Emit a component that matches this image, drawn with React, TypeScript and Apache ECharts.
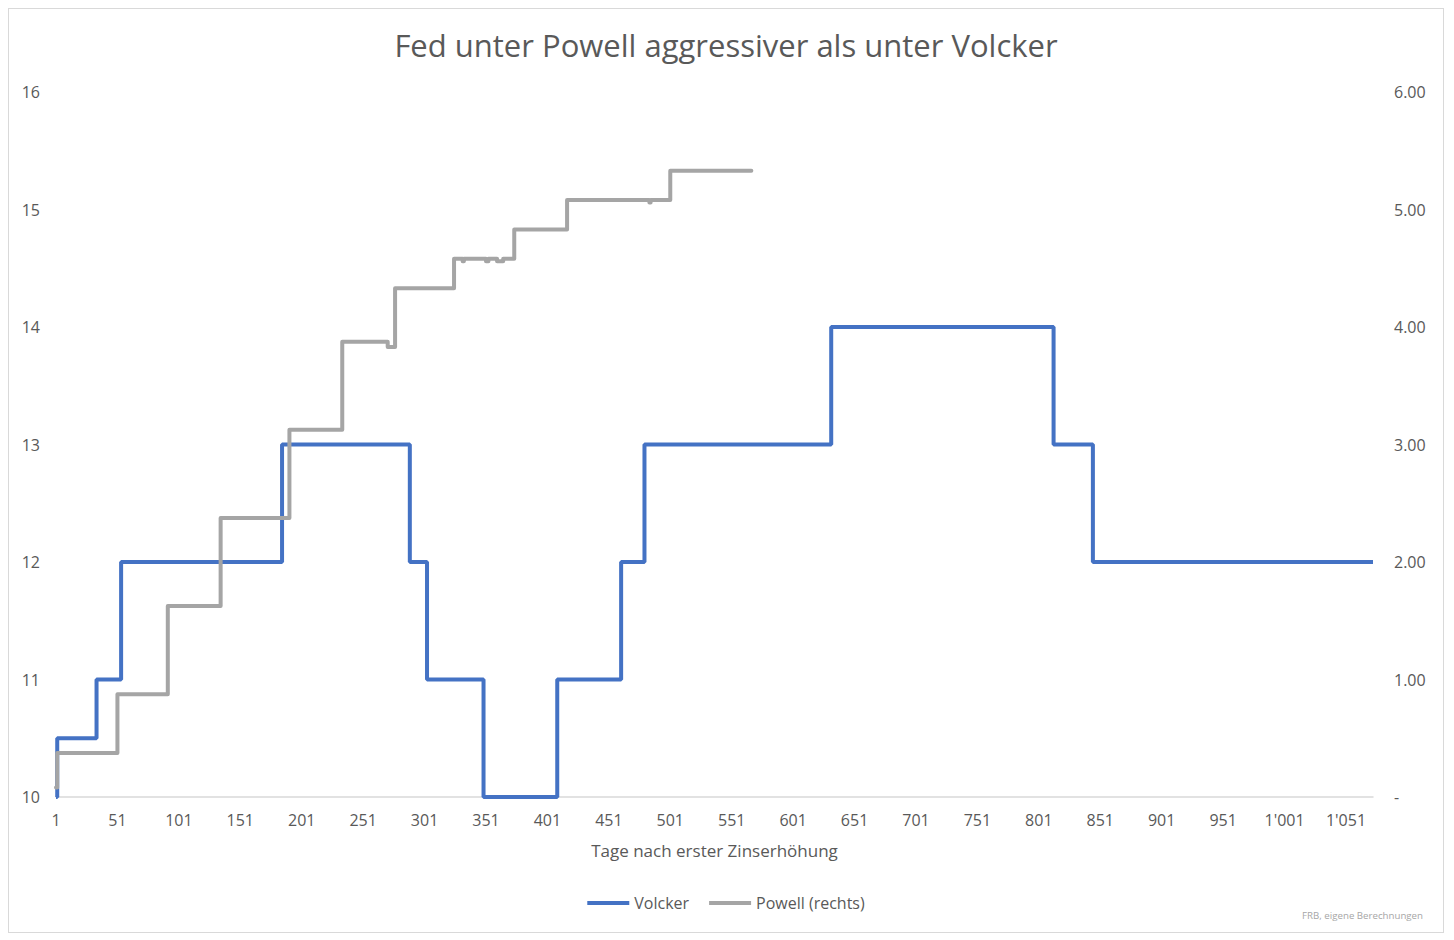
import React, { useEffect, useRef } from "react";
import * as echarts from "echarts";

// Step change points: [day after first hike, rate]
const volckerSteps: [number, number][] = [
  [1, 10], [2, 10.5], [34, 11], [54, 12], [185, 13], [289, 12], [303, 11],
  [349, 10], [409, 11], [461, 12], [480, 13], [632, 14], [813, 13], [845, 12], [1073, 12],
];

const powellSteps: [number, number][] = [
  [1, 0.08], [2, 0.375], [51, 0.875], [92, 1.625], [135, 2.375], [191, 3.125],
  [234, 3.875], [271, 3.83], [277, 4.33], [325, 4.58], [332, 4.56], [333, 4.58],
  [351, 4.56], [353, 4.58], [360, 4.56], [365, 4.58], [374, 4.83], [417, 5.08],
  [484, 5.06], [485, 5.08], [501, 5.33], [567, 5.33],
];

const leftTicks = { min: 10, max: 16, interval: 1 };
const rightTicks = { min: 0, max: 6, interval: 1 };
const xTicks = { min: 1, max: 1073, interval: 50 };

const TXT = "#595959";
const FONT = "Open Sans";

function fmtDay(v: number): string {
  if ((v - 1) % 50 !== 0) return "";
  const s = String(v);
  return s.length > 3 ? s.slice(0, s.length - 3) + "'" + s.slice(s.length - 3) : s;
}

export default function App() {
  const ref = useRef<HTMLDivElement>(null);
  useEffect(() => {
    if (!ref.current) return;
    const chart = echarts.init(ref.current, undefined, { renderer: "svg" });
    chart.setOption({
      animation: false,
      backgroundColor: "#ffffff",
      textStyle: { fontFamily: FONT },
      title: {
        text: "Fed unter Powell aggressiver als unter Volcker",
        left: "center",
        top: 15,
        textStyle: { fontFamily: FONT, fontSize: 31, fontWeight: "normal", color: TXT },
      },
      legend: {
        bottom: 16,
        left: "center",
        icon: "rect",
        itemWidth: 42,
        itemHeight: 4,
        itemGap: 20,
        textStyle: { fontFamily: FONT, fontSize: 16, color: TXT },
        data: ["Volcker", "Powell (rechts)"],
      },
      graphic: [
        {
          type: "text",
          right: 20,
          bottom: 12,
          style: { text: "FRB, eigene Berechnungen", fontFamily: FONT, fontSize: 9.7, fill: "#A6A6A6" },
        },
      ],
      grid: { left: 47, right: 70, top: 83, bottom: 135, containLabel: false },
      xAxis: {
        type: "value",
        min: xTicks.min,
        max: xTicks.max,
        interval: xTicks.interval,
        name: "Tage nach erster Zinserhöhung",
        nameLocation: "middle",
        nameGap: 45,
        nameTextStyle: { fontFamily: FONT, fontSize: 17, color: TXT },
        axisLine: { show: true, lineStyle: { color: "#D9D9D9", width: 1.5 } },
        axisTick: { show: false },
        splitLine: { show: false },
        axisLabel: {
          showMaxLabel: false,
          margin: 15,
          fontFamily: FONT,
          fontSize: 16,
          color: TXT,
          formatter: (v: number) => fmtDay(v),
        },
      },
      yAxis: [
        {
          type: "value",
          min: leftTicks.min,
          max: leftTicks.max,
          interval: leftTicks.interval,
          axisLine: { show: false },
          axisTick: { show: false },
          splitLine: { show: false },
          axisLabel: { margin: 16, fontFamily: FONT, fontSize: 16, color: TXT },
        },
        {
          type: "value",
          position: "right",
          min: rightTicks.min,
          max: rightTicks.max,
          interval: rightTicks.interval,
          axisLine: { show: false },
          axisTick: { show: false },
          splitLine: { show: false },
          axisLabel: {
            margin: 21,
            fontFamily: FONT,
            fontSize: 16,
            color: TXT,
            formatter: (v: number) => (v === 0 ? "-" : v.toFixed(2)),
          },
        },
      ],
      series: [
        {
          name: "Volcker",
          type: "line",
          step: "end",
          yAxisIndex: 0,
          data: volckerSteps,
          symbol: "none",
          lineStyle: { color: "#4472C4", width: 4 },
          itemStyle: { color: "#4472C4" },
        },
        {
          name: "Powell (rechts)",
          type: "line",
          step: "end",
          yAxisIndex: 1,
          data: powellSteps,
          symbol: "none",
          lineStyle: { color: "#A5A5A5", width: 4, cap: "round", join: "round" },
          itemStyle: { color: "#A5A5A5" },
        },
      ],
    });
    return () => chart.dispose();
  }, []);

  return (
    <div style={{ width: 1434, height: 923, border: "1px solid #D9D9D9" }}>
      <div ref={ref} style={{ width: 1434, height: 923 }} />
    </div>
  );
}
